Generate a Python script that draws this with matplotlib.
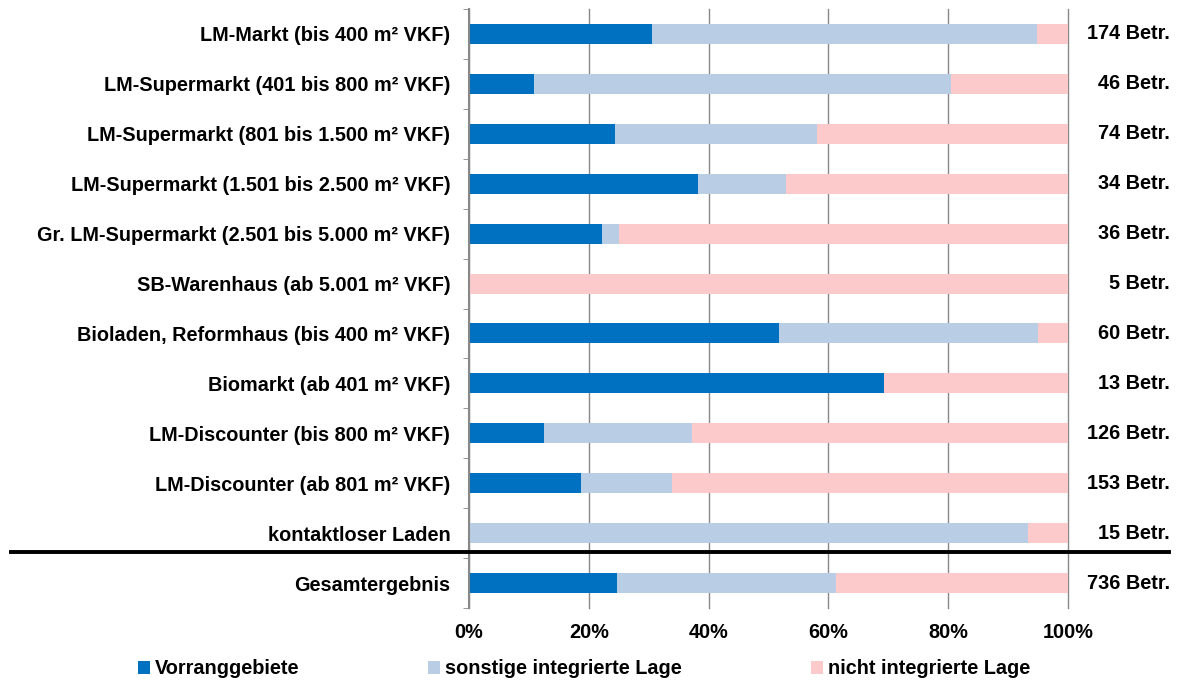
import numpy as np
import matplotlib.pyplot as plt

plt.rcParams['font.family'] = ['Liberation Sans', 'DejaVu Sans']
plt.rcParams['font.weight'] = 'bold'

# Kategorien (von oben nach unten)
kategorien = [
    "LM-Markt (bis 400 m² VKF)",
    "LM-Supermarkt (401 bis 800 m² VKF)",
    "LM-Supermarkt (801 bis 1.500 m² VKF)",
    "LM-Supermarkt (1.501 bis 2.500 m² VKF)",
    "Gr. LM-Supermarkt (2.501 bis 5.000 m² VKF)",
    "SB-Warenhaus (ab 5.001 m² VKF)",
    "Bioladen, Reformhaus (bis 400 m² VKF)",
    "Biomarkt (ab 401 m² VKF)",
    "LM-Discounter (bis 800 m² VKF)",
    "LM-Discounter (ab 801 m² VKF)",
    "kontaktloser Laden",
    "Gesamtergebnis",
]
# Anteile in %
vorrang = [30.5, 10.9, 24.3, 38.2, 22.2, 0.0, 51.7, 69.2, 12.6, 18.7, 0.0, 24.7]
sonstige = [64.4, 69.6, 33.8, 14.7, 2.8, 0.0, 43.3, 0.0, 24.6, 15.2, 93.3, 36.6]
nicht = [5.1, 19.5, 41.9, 47.1, 75.0, 100.0, 5.0, 30.8, 62.8, 66.1, 6.7, 38.7]
betriebe = [174, 46, 74, 34, 36, 5, 60, 13, 126, 153, 15, 736]

farben = ["#0070C0", "#B9CDE5", "#FCCACB"]
namen = ["Vorranggebiete", "sonstige integrierte Lage", "nicht integrierte Lage"]

fs = 14.3
fig = plt.figure(figsize=(11.79, 6.82), dpi=100)
ax = fig.add_axes([469/1179, 1-608/682, 599/1179, 599/682])

y = np.arange(len(kategorien))
v = np.array(vorrang)
s = np.array(sonstige)
n = np.array(nicht)
h = 0.4
b1 = ax.barh(y, v, height=h, color=farben[0], label=namen[0], zorder=2)
b2 = ax.barh(y, s, left=v, height=h, color=farben[1], label=namen[1], zorder=2)
b3 = ax.barh(y, n, left=v+s, height=h, color=farben[2], label=namen[2], zorder=2)

ax.set_ylim(len(kategorien)-0.5, -0.5)
ax.set_xlim(0, 100)
ax.set_yticks(y)
ax.set_yticklabels(kategorien, fontsize=fs, fontweight='bold')
ax.tick_params(axis='y', length=0, pad=13.5)
ax.set_yticks(np.arange(-0.5, len(kategorien)), minor=True)
ax.tick_params(axis='y', which='minor', length=4, color='#888888')
ax.set_xticks(np.arange(0, 101, 20))
ax.set_xticklabels([f"{t}%" for t in range(0, 101, 20)], fontsize=fs, fontweight='bold')
ax.tick_params(axis='x', length=0, pad=11)
ax.grid(axis='x', color='#888888', linewidth=1, zorder=0)
for gl in ax.get_xgridlines():
    gl.set_clip_on(False)
for sp in ['top', 'right', 'bottom']:
    ax.spines[sp].set_visible(False)
ax.spines['left'].set_color('#888888')
ax.spines['left'].set_linewidth(1.5)

for yi, cnt in zip(y, betriebe):
    ax.text(1170/1179, yi, f"{cnt} Betr.",
            transform=ax.get_yaxis_transform().__class__(fig.transFigure, ax.transData),
            ha='right', va='center', fontsize=fs, fontweight='bold')

# Trennlinie vor Gesamtergebnis
fig.add_artist(plt.Line2D([11/1179, 1169/1179], [1-551.5/682, 1-551.5/682],
                          color='black', linewidth=2.8, transform=fig.transFigure))

fig.legend(handles=[b1, b2, b3], labels=namen, loc='center left',
           bbox_to_anchor=(138/1179, 1-669/682), ncol=3, frameon=False,
           handlelength=0.6, handleheight=0.6, handletextpad=0.25,
           columnspacing=6.5, borderpad=0, borderaxespad=0,
           prop={'weight': 'bold', 'size': fs})

fig.savefig("out.png", dpi=100)
